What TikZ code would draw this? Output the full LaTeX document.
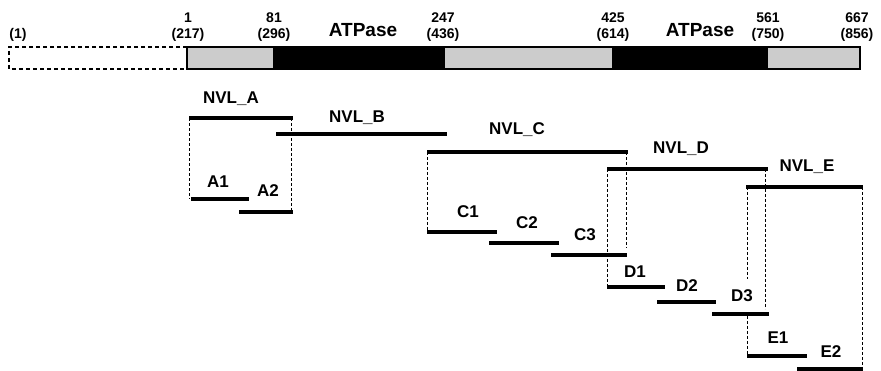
\documentclass[tikz,border=0pt]{standalone}
\usepackage{fontspec}
\setmainfont{Liberation Sans}
\begin{document}
\begin{tikzpicture}[x=1pt,y=-1pt,
  num/.style={font=\bfseries\fontsize{14}{14}\selectfont, anchor=base, inner sep=0pt},
  big/.style={font=\bfseries\fontsize{19}{19}\selectfont, anchor=base, inner sep=0pt},
  lab/.style={font=\bfseries\fontsize{17}{17}\selectfont, anchor=base, inner sep=0pt},
  seg/.style={line width=4pt},
  guide/.style={line width=0.9pt, dash pattern=on 3pt off 2pt},
  grayfill/.style={fill=black!20, draw=black, line width=2pt},
  blackfill/.style={fill=black, draw=black, line width=2pt}]
\useasboundingbox (0,0) rectangle (881,371);
% protein bar
\draw[line width=2pt, dash pattern=on 4pt off 3pt] (187,47) -- (9,47) -- (9,69) -- (187,69);
\filldraw[grayfill] (187,47) rectangle (274,69);
\filldraw[blackfill] (274,47) rectangle (444,69);
\filldraw[grayfill] (444,47) rectangle (613,69);
\filldraw[blackfill] (613,47) rectangle (767,69);
\filldraw[grayfill] (767,47) rectangle (860,69);
% numbers
\node[num] (n0) at (18,39) {(1)};
\node[num] (n1a) at (188,23) {1};
\node[num] (n1b) at (188,39) {(217)};
\node[num] (n2a) at (274,23) {81};
\node[num] (n2b) at (274,39) {(296)};
\node[num] (n3a) at (443,23) {247};
\node[num] (n3b) at (443,39) {(436)};
\node[num] (n4a) at (613,23) {425};
\node[num] (n4b) at (613,39) {(614)};
\node[num] (n5a) at (768,23) {561};
\node[num] (n5b) at (768,39) {(750)};
\node[num] (n6a) at (857,23) {667};
\node[num] (n6b) at (857,39) {(856)};
\node[big] (at1) at (363,37) {ATPase};
\node[big] (at2) at (700,37) {ATPase};
% coordinates of segments
\coordinate (Aa) at (189,118); \coordinate (Ab) at (293,118);
\coordinate (Ba) at (276,134); \coordinate (Bb) at (447,134);
\coordinate (Ca) at (427,152); \coordinate (Cb) at (628,152);
\coordinate (Da) at (607,169); \coordinate (Db) at (768,169);
\coordinate (Ea) at (746,187); \coordinate (Eb) at (863,187);
\coordinate (A1a) at (191,199); \coordinate (A1b) at (249,199);
\coordinate (A2a) at (239,212); \coordinate (A2b) at (293,212);
\coordinate (C1a) at (427,232); \coordinate (C1b) at (497,232);
\coordinate (C2a) at (489,243); \coordinate (C2b) at (559,243);
\coordinate (C3a) at (551,255); \coordinate (C3b) at (627,255);
\coordinate (D1a) at (607,287); \coordinate (D1b) at (665,287);
\coordinate (D2a) at (657,302); \coordinate (D2b) at (716,302);
\coordinate (D3a) at (712,314); \coordinate (D3b) at (769,314);
\coordinate (E1a) at (747,356); \coordinate (E1b) at (807,356);
\coordinate (E2a) at (797,369); \coordinate (E2b) at (863,369);
% guides
\draw[guide] (189,118) -- (189,199);
\draw[guide] (291,118) -- (291,212);
\draw[guide] (427,152) -- (427,232);
\draw[guide] (626,152) -- (626,248);
\draw[guide] (607,169) -- (607,287);
\draw[guide] (765,169) -- (765,309);
\draw[guide] (747,187) -- (747,279);
\draw[guide] (747,316) -- (747,356);
\draw[guide] (862,187) -- (862,369);
% segments
\draw[seg] (Aa) -- (Ab);
\draw[seg] (Ba) -- (Bb);
\draw[seg] (Ca) -- (Cb);
\draw[seg] (Da) -- (Db);
\draw[seg] (Ea) -- (Eb);
\draw[seg] (A1a) -- (A1b);
\draw[seg] (A2a) -- (A2b);
\draw[seg] (C1a) -- (C1b);
\draw[seg] (C2a) -- (C2b);
\draw[seg] (C3a) -- (C3b);
\draw[seg] (D1a) -- (D1b);
\draw[seg] (D2a) -- (D2b);
\draw[seg] (D3a) -- (D3b);
\draw[seg] (E1a) -- (E1b);
\draw[seg] (E2a) -- (E2b);
% labels
\node[lab] (lA) at (231,104) {NVL\_A};
\node[lab] (lB) at (357,123) {NVL\_B};
\node[lab] (lC) at (517,135) {NVL\_C};
\node[lab] (lD) at (681,154) {NVL\_D};
\node[lab] (lE) at (807,172) {NVL\_E};
\node[lab] (lA1) at (218,188) {A1};
\node[lab] (lA2) at (268,197) {A2};
\node[lab] (lC1) at (468,218) {C1};
\node[lab] (lC2) at (527,229) {C2};
\node[lab] (lC3) at (585,241) {C3};
\node[lab] (lD1) at (635,278) {D1};
\node[lab] (lD2) at (687,292) {D2};
\node[lab] (lD3) at (742,302) {D3};
\node[lab] (lE1) at (778,344) {E1};
\node[lab] (lE2) at (831,357) {E2};
\end{tikzpicture}
\end{document}
